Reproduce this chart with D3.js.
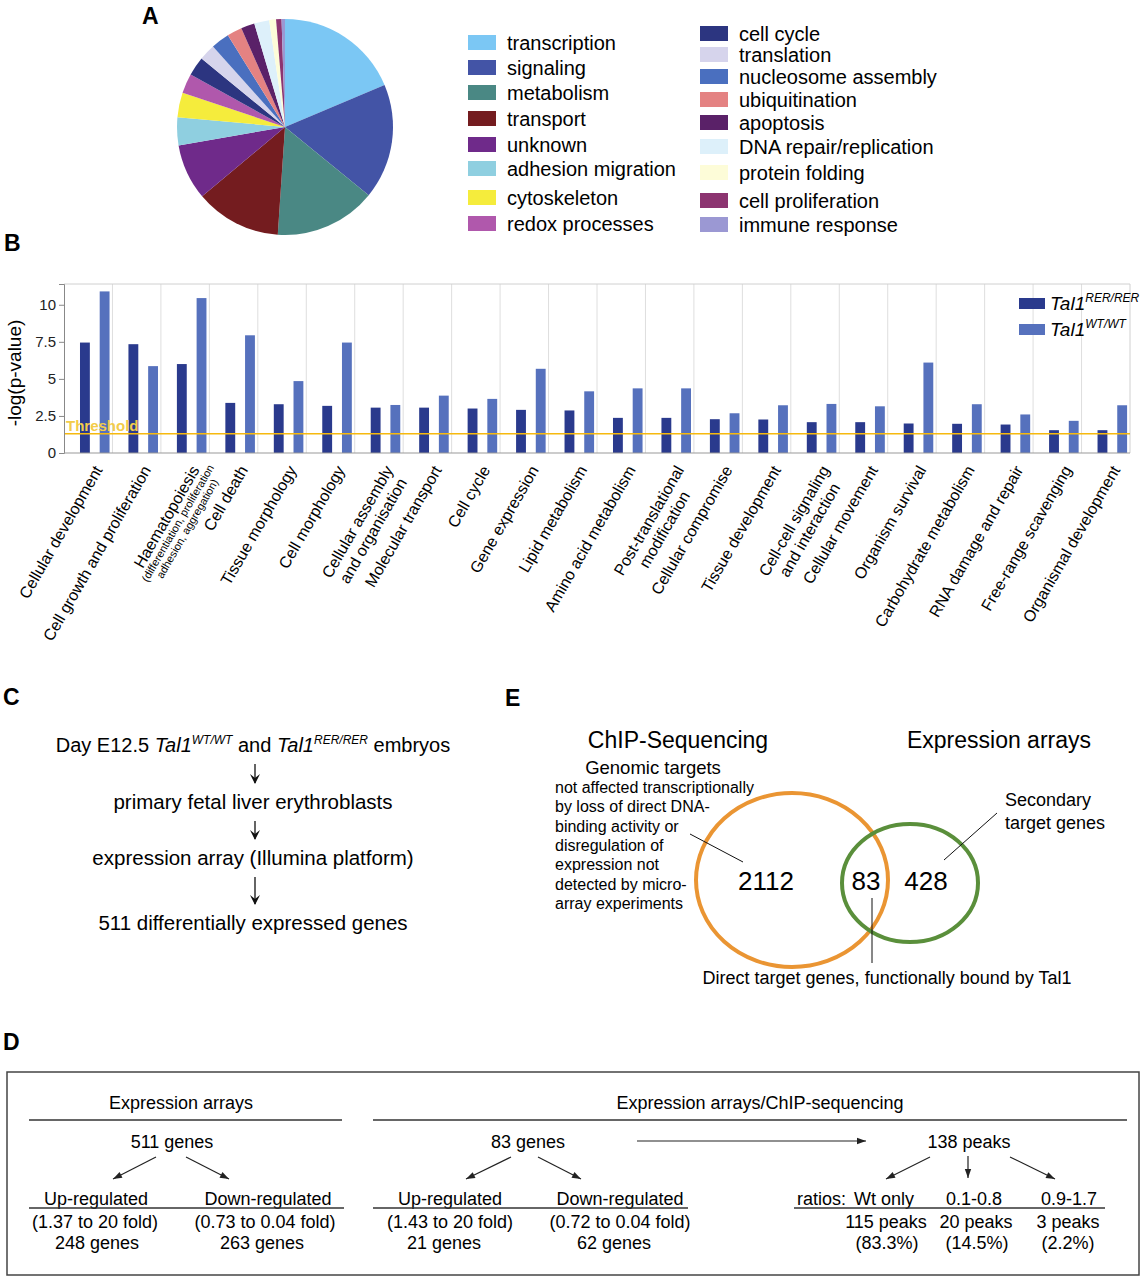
<!DOCTYPE html>
<html>
<head>
<meta charset="utf-8">
<script src="https://cdn.jsdelivr.net/npm/d3@7"></script>
<style>
  body { margin: 0; background: #fff; }
  svg { font-family: "Liberation Sans", Arial, Helvetica, sans-serif; }
</style>
</head>
<body>
<svg width="1143" height="1280"></svg>
<script>
// ---------- data ----------
var pieCategories = ["transcription", "signaling", "metabolism", "transport", "unknown",
  "adhesion migration", "cytoskeleton", "redox processes", "cell cycle", "translation",
  "nucleosome assembly", "ubiquitination", "apoptosis", "DNA repair/replication",
  "protein folding", "cell proliferation", "immune response"];
var pieValues = [18.3, 16.9, 14.9, 12.6, 8.2, 4.1, 3.6, 2.9, 2.8, 2.4, 2.7, 2.2, 2.0, 2.2, 1.0, 0.8, 0.5];
var pieColors = ["#7bc7f4", "#4354a6", "#4a8884", "#741c1f", "#6f2a8a", "#8fcfe0", "#f5ec3c",
  "#b058ac", "#2c3580", "#d6d4ec", "#4a6fbf", "#e48282", "#5a2168", "#ddf0fa", "#fdfcd8",
  "#8c3470", "#9b98d3"];

var barCategories = ["Cellular development", "Cell growth and proliferation",
  "Haematopoiesis\n(differentiation, proliferation\nadhesion, aggregation)", "Cell death",
  "Tissue morphology", "Cell morphology", "Cellular assembly\nand organisation",
  "Molecular transport", "Cell cycle", "Gene expression", "Lipid metabolism",
  "Amino acid metabolism", "Post-translational\nmodification", "Cellular compromise",
  "Tissue development", "Cell-cell signaling\nand interaction", "Cellular movement",
  "Organism survival", "Carbohydrate metabolism", "RNA damage and repair",
  "Free-range scavenging", "Organismal development"];
var rerValues = [7.45, 7.34, 6.0, 3.38, 3.29, 3.18, 3.06, 3.06, 3.0, 2.91, 2.87,
  2.37, 2.37, 2.28, 2.26, 2.08, 2.08, 1.99, 1.97, 1.92, 1.54, 1.54];
var wtValues = [10.9, 5.86, 10.45, 7.94, 4.85, 7.45, 3.24, 3.87, 3.65, 5.68, 4.16,
  4.36, 4.36, 2.68, 3.22, 3.31, 3.15, 6.1, 3.29, 2.6, 2.17, 3.22];
var yTicks = [0, 2.5, 5, 7.5, 10];
var threshold = 1.3;

var flowSteps = ["primary fetal liver erythroblasts", "expression array (Illumina platform)",
  "511 differentially expressed genes"];

var vennSets = ["ChIP-Sequencing", "Expression arrays"];
var vennCounts = [2112, 83, 428];
var chipNote = ["not affected transcriptionally", "by loss of direct DNA-", "binding activity or",
  "disregulation of", "expression not", "detected by micro-", "array experiments"];

var exprUp = ["Up-regulated", "(1.37 to 20 fold)", "248 genes"];
var exprDown = ["Down-regulated", "(0.73 to 0.04 fold)", "263 genes"];
var chipUp = ["Up-regulated", "(1.43 to 20 fold)", "21 genes"];
var chipDown = ["Down-regulated", "(0.72 to 0.04 fold)", "62 genes"];
var ratioHeads = ["Wt only", "0.1-0.8", "0.9-1.7"];
var ratioPeaks = ["115 peaks", "20 peaks", "3 peaks"];
var ratioPct = ["(83.3%)", "(14.5%)", "(2.2%)"];

var svg = d3.select("svg");

function panelLabel(t, x, y) {
  svg.append("text").attr("x", x).attr("y", y).text(t)
    .attr("font-size", 23).attr("font-weight", "bold");
}

// ---------- A: pie ----------
panelLabel("A", 142, 24);
var pie = d3.pie().sort(null).value(function(d) { return d; });
var arc = d3.arc().innerRadius(0).outerRadius(108);
var color = d3.scaleOrdinal().domain(pieCategories).range(pieColors);

svg.append("g").attr("transform", "translate(285,127)")
  .selectAll("path")
  .data(pie(pieValues))
  .enter()
  .append("path")
  .attr("d", arc)
  .attr("fill", function(d, i) { return color(pieCategories[i]); });

// legend rows (layout only)
var rowsA = [43, 68, 93, 119, 145, 169, 198, 224, 34, 55, 77, 100, 123, 147, 173, 201, 225];
var legA = svg.append("g").attr("font-size", 20);
pieCategories.forEach(function(c, i) {
  var x = i < 8 ? 468 : 700;
  var yy = rowsA[i];
  legA.append("rect").attr("x", x).attr("y", yy - 8).attr("width", 28).attr("height", 15)
    .attr("fill", color(c));
  legA.append("text").attr("x", x + 39).attr("y", yy + 7).text(c);
});

// ---------- B: bars ----------
panelLabel("B", 4, 251);
var plotL = 64, plotR = 1130, plotT = 284, plotB = 453;
var x0 = d3.scaleBand().domain(barCategories).range([plotL, plotR]);
var bw = x0.bandwidth();
var x1 = d3.scaleBand().domain(["rer", "wt"]).range([0.33 * bw, 0.94 * bw]).paddingInner(0.5);
var y = d3.scaleLinear().domain([0, 11.4]).range([plotB, plotT]);

var gB = svg.append("g");
gB.selectAll("line.grid")
  .data(barCategories.slice(1))
  .enter()
  .append("line")
  .attr("x1", function(d) { return x0(d); })
  .attr("x2", function(d) { return x0(d); })
  .attr("y1", plotT).attr("y2", plotB)
  .attr("stroke", "#dedede").attr("stroke-width", 1);
gB.append("line").attr("x1", plotR).attr("x2", plotR).attr("y1", plotT).attr("y2", plotB)
  .attr("stroke", "#d0d0d0");
gB.append("line").attr("x1", plotL).attr("x2", plotR).attr("y1", plotT).attr("y2", plotT)
  .attr("stroke", "#d0d0d0");

gB.selectAll("rect.rer")
  .data(rerValues)
  .enter()
  .append("rect")
  .attr("x", function(d, i) { return x0(barCategories[i]) + x1("rer"); })
  .attr("y", function(d) { return y(d); })
  .attr("width", x1.bandwidth())
  .attr("height", function(d) { return plotB - y(d); })
  .attr("fill", "#2a3a8d");

gB.selectAll("rect.wt")
  .data(wtValues)
  .enter()
  .append("rect")
  .attr("x", function(d, i) { return x0(barCategories[i]) + x1("wt"); })
  .attr("y", function(d) { return y(d); })
  .attr("width", x1.bandwidth())
  .attr("height", function(d) { return plotB - y(d); })
  .attr("fill", "#5671bd");

// threshold
gB.append("line").attr("x1", plotL).attr("x2", plotR)
  .attr("y1", y(threshold)).attr("y2", y(threshold))
  .attr("stroke", "#f6b90f").attr("stroke-width", 1.5);
gB.append("text").attr("x", plotL + 2).attr("y", y(threshold) - 3).text("Threshold")
  .attr("fill", "#f3cc4a").attr("font-size", 15).attr("font-weight", "bold");

// y axis
var yAxis = gB.append("g").attr("transform", "translate(" + plotL + ",0)")
  .call(d3.axisLeft(y).tickValues(yTicks).tickSize(5).tickFormat(d3.format("")));
yAxis.selectAll("path, line").attr("stroke", "#888");
yAxis.selectAll("text").attr("font-size", 15).attr("fill", "#222")
  .attr("font-family", "Liberation Sans, Arial, sans-serif");
gB.append("line").attr("x1", plotL).attr("x2", plotR).attr("y1", plotB).attr("y2", plotB)
  .attr("stroke", "#999");
gB.append("text").attr("transform", "translate(21,373) rotate(-90)")
  .attr("text-anchor", "middle").attr("font-size", 19).text("-log(p-value)");

// x labels: first line ends at the tick, next lines centred under it
barCategories.forEach(function(c) {
  var lines = c.split("\n");
  var small = c.indexOf("Haematopoiesis") === 0;
  var g = gB.append("g")
    .attr("transform", "translate(" + (x0(c) + bw / 2 + 10) + "," + (plotB + 14) + ") rotate(-60)");
  var first = g.append("text").attr("x", 0).attr("y", 0).attr("dy", "0.35em")
    .attr("text-anchor", "end").attr("font-size", 16).text(lines[0]);
  var len = first.node().getComputedTextLength();
  lines.slice(1).forEach(function(l, k) {
    var fs = small ? 11 : 16;
    var ty = small ? 13 + k * 11 : 18 * (k + 1);
    g.append("text").attr("x", -len / 2).attr("y", ty).attr("dy", "0.35em")
      .attr("text-anchor", "middle").attr("font-size", fs).text(l);
  });
});

// legend B
var legB = [["#2a3a8d", "RER/RER"], ["#5671bd", "WT/WT"]];
legB.forEach(function(d, i) {
  var yy = 303 + i * 26;
  svg.append("rect").attr("x", 1019).attr("y", yy - 5).attr("width", 26).attr("height", 11)
    .attr("fill", d[0]);
  var t = svg.append("text").attr("x", 1050).attr("y", yy + 7).attr("font-style", "italic")
    .attr("font-size", 19);
  t.append("tspan").text("Tal1");
  t.append("tspan").attr("dy", -8).attr("font-size", 12).text(d[1]);
});

// ---------- C: flow ----------
panelLabel("C", 3, 705);
var cx = 253;
var head = svg.append("text").attr("x", cx).attr("y", 752).attr("text-anchor", "middle")
  .attr("font-size", 20);
head.append("tspan").text("Day E12.5 ");
head.append("tspan").attr("font-style", "italic").text("Tal1");
head.append("tspan").attr("font-style", "italic").attr("font-size", 12).attr("dy", -8).text("WT/WT");
head.append("tspan").attr("dy", 8).text(" and ");
head.append("tspan").attr("font-style", "italic").text("Tal1");
head.append("tspan").attr("font-style", "italic").attr("font-size", 12).attr("dy", -8).text("RER/RER");
head.append("tspan").attr("dy", 8).text(" embryos");

var stepBase = [809, 865, 930];
var prevBase = [752, 809, 865];
flowSteps.forEach(function(s, i) {
  var ty = stepBase[i];
  svg.append("text").attr("x", cx).attr("y", ty).attr("text-anchor", "middle")
    .attr("font-size", 20.5).text(s);
  var a0 = prevBase[i] + 12, a1 = ty - 26;
  var ax = cx + 2;
  svg.append("line").attr("x1", ax).attr("x2", ax).attr("y1", a0).attr("y2", a1)
    .attr("stroke", "#111").attr("stroke-width", 1.3);
  svg.append("path").attr("d", "M" + (ax - 5) + "," + (a1 - 9) + "L" + ax + "," + (a1 + 1) +
    "L" + (ax + 5) + "," + (a1 - 9) + "L" + ax + "," + (a1 - 5) + "Z").attr("fill", "#111");
});

// ---------- E: venn ----------
panelLabel("E", 505, 706);
var gE = svg.append("g");
gE.append("text").attr("x", 678).attr("y", 748).attr("text-anchor", "middle")
  .attr("font-size", 23).text(vennSets[0]);
gE.append("text").attr("x", 999).attr("y", 748).attr("text-anchor", "middle")
  .attr("font-size", 23).text(vennSets[1]);

var circ = [{ cx: 792, cy: 880, rx: 96, ry: 87, c: "#ea9533" },
            { cx: 910, cy: 883, rx: 68, ry: 59, c: "#5a8f3b" }];
gE.selectAll("ellipse")
  .data(circ)
  .enter()
  .append("ellipse")
  .attr("cx", function(d) { return d.cx; })
  .attr("cy", function(d) { return d.cy; })
  .attr("rx", function(d) { return d.rx; })
  .attr("ry", function(d) { return d.ry; })
  .attr("fill", "none")
  .attr("stroke", function(d) { return d.c; })
  .attr("stroke-width", 4);

var countX = [766, 866, 926];
vennCounts.forEach(function(v, i) {
  gE.append("text").attr("x", countX[i]).attr("y", 890).attr("text-anchor", "middle")
    .attr("font-size", 26).text(v);
});

gE.append("text").attr("x", 653).attr("y", 774).attr("text-anchor", "middle")
  .attr("font-size", 18.5).text("Genomic targets");
chipNote.forEach(function(l, i) {
  gE.append("text").attr("x", 555).attr("y", 793 + i * 19.3).attr("font-size", 16).text(l);
});
gE.append("text").attr("x", 1005).attr("y", 806).attr("font-size", 18).text("Secondary");
gE.append("text").attr("x", 1005).attr("y", 829).attr("font-size", 18).text("target genes");

gE.append("line").attr("x1", 690).attr("y1", 834).attr("x2", 743).attr("y2", 862)
  .attr("stroke", "#111");
gE.append("line").attr("x1", 997).attr("y1", 813).attr("x2", 944).attr("y2", 860)
  .attr("stroke", "#111");
gE.append("line").attr("x1", 872).attr("y1", 898).attr("x2", 872).attr("y2", 963)
  .attr("stroke", "#111");
gE.append("text").attr("x", 887).attr("y", 984).attr("text-anchor", "middle")
  .attr("font-size", 18).text("Direct target genes, functionally bound by Tal1");

// ---------- D: table ----------
panelLabel("D", 3, 1050);
var gD = svg.append("g").attr("font-size", 18);
gD.append("rect").attr("x", 7).attr("y", 1072).attr("width", 1132).attr("height", 203)
  .attr("fill", "none").attr("stroke", "#444").attr("stroke-width", 1.5);

function txt(t, x, yy) {
  gD.append("text").attr("x", x).attr("y", yy).attr("text-anchor", "middle").text(t);
}
function hline(xa, xb, yy) {
  gD.append("line").attr("x1", xa).attr("x2", xb).attr("y1", yy).attr("y2", yy)
    .attr("stroke", "#333").attr("stroke-width", 1.3);
}
function arrow(xa, ya, xb, yb) {
  gD.append("line").attr("x1", xa).attr("y1", ya).attr("x2", xb).attr("y2", yb)
    .attr("stroke", "#222").attr("stroke-width", 1.2);
  var ang = Math.atan2(yb - ya, xb - xa), L = 9, W = 3.2;
  var bx = xb - L * Math.cos(ang), by = yb - L * Math.sin(ang);
  gD.append("path").attr("d", "M" + xb + "," + yb +
    "L" + (bx - W * Math.sin(ang)) + "," + (by + W * Math.cos(ang)) +
    "L" + (bx + W * Math.sin(ang)) + "," + (by - W * Math.cos(ang)) + "Z").attr("fill", "#222");
}

var rowY = [1109, 1148, 1205, 1228, 1249];
txt("Expression arrays", 181, rowY[0]);
hline(29, 342, 1120);
txt("511 genes", 172, rowY[1]);
arrow(156, 1157, 113, 1179);
arrow(186, 1157, 229, 1179);
[96, 95, 97].forEach(function(xx, i) { txt(exprUp[i], xx, rowY[2 + i]); });
[268, 265, 262].forEach(function(xx, i) { txt(exprDown[i], xx, rowY[2 + i]); });
hline(29, 344, 1208);

txt("Expression arrays/ChIP-sequencing", 760, rowY[0]);
hline(373, 1127, 1120);
txt("83 genes", 528, rowY[1]);
arrow(637, 1141, 866, 1141);
txt("138 peaks", 969, rowY[1]);
arrow(511, 1157, 466, 1179);
arrow(538, 1157, 581, 1179);
[450, 450, 444].forEach(function(xx, i) { txt(chipUp[i], xx, rowY[2 + i]); });
[620, 620, 614].forEach(function(xx, i) { txt(chipDown[i], xx, rowY[2 + i]); });
hline(373, 688, 1208);

arrow(930, 1157, 886, 1179);
arrow(968, 1156, 968, 1178);
arrow(1010, 1157, 1055, 1179);
gD.append("text").attr("x", 797).attr("y", rowY[2]).text("ratios:");
gD.append("text").attr("x", 914).attr("y", rowY[2]).attr("text-anchor", "end").text(ratioHeads[0]);
[974, 1069].forEach(function(xx, i) { txt(ratioHeads[i + 1], xx, rowY[2]); });
hline(794, 1105, 1208);
[886, 976, 1068].forEach(function(xx, i) { txt(ratioPeaks[i], xx, rowY[3]); });
[887, 977, 1068].forEach(function(xx, i) { txt(ratioPct[i], xx, rowY[4]); });
</script>
</body>
</html>
